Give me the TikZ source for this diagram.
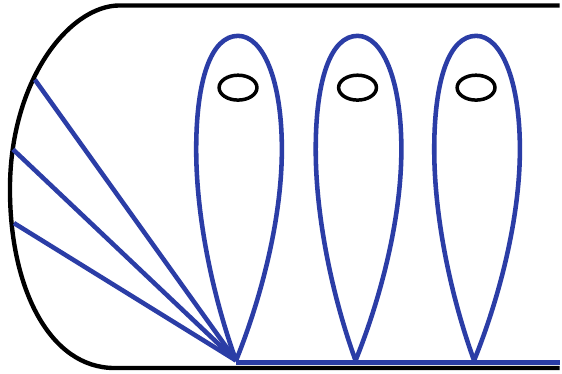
\documentclass[tikz,border=0pt]{standalone}
\usepackage{tikz}
\usepackage{xcolor}
\definecolor{vizBlue}{HTML}{2B3DA6}
\tikzset{
  vizLine/.style={draw=vizBlue, line width=2.6pt},
  vizRim/.style={draw=black, line width=2.5pt},
  vizEye/.style={draw=black, line width=2pt}
}

\begin{document}
\begin{tikzpicture}
  \filldraw[fill=white, draw=none] (0cm,0cm) rectangle (11.24cm,7.5cm);
  \coordinate (apexA) at (4.74cm,0.26cm);
  \coordinate (apexB) at (7.14cm,0.26cm);
  \coordinate (apexC) at (9.52cm,0.26cm);
  \coordinate (rimA) at (0.7cm,5.9cm);
  \coordinate (rimB) at (0.26cm,4.5cm);
  \coordinate (rimC) at (0.28cm,3.02cm);
  \coordinate (tipEnd) at (11.24cm,0.22cm);
  \draw[vizRim] (11.24cm,7.39cm) -- (2.4cm,7.39cm) .. controls (1.4cm,7.39cm) and (0.2cm,5.9cm) .. (0.2cm,3.7cm) .. controls (0.2cm,1.7cm) and (1.0cm,0.11cm) .. (2.3cm,0.11cm) -- (11.24cm,0.11cm);
  \draw[vizLine] (apexA) -- (rimA);
  \draw[vizLine] (apexA) -- (rimB);
  \draw[vizLine] (apexA) -- (rimC);
  \draw[vizLine] (apexA |- tipEnd) -- (tipEnd);
  \draw[vizLine] (apexA) .. controls ++(-0.45cm,1.24cm) and ++(0cm,-1.4cm) .. (3.94cm,4.5cm) .. controls (3.94cm,5.9cm) and (4.24cm,6.78cm) .. (4.78cm,6.78cm) .. controls (5.28cm,6.78cm) and (5.66cm,5.9cm) .. (5.66cm,4.5cm) .. controls (5.66cm,3.1cm) and (5.24cm,1.5cm) .. (apexA);
  \draw[vizLine] (apexB) .. controls ++(-0.45cm,1.24cm) and ++(0cm,-1.4cm) .. (6.34cm,4.5cm) .. controls (6.34cm,5.9cm) and (6.64cm,6.78cm) .. (7.18cm,6.78cm) .. controls (7.68cm,6.78cm) and (8.06cm,5.9cm) .. (8.06cm,4.5cm) .. controls (8.06cm,3.1cm) and (7.64cm,1.5cm) .. (apexB);
  \draw[vizLine] (apexC) .. controls ++(-0.45cm,1.24cm) and ++(0cm,-1.4cm) .. (8.72cm,4.5cm) .. controls (8.72cm,5.9cm) and (9.02cm,6.78cm) .. (9.56cm,6.78cm) .. controls (10.06cm,6.78cm) and (10.44cm,5.9cm) .. (10.44cm,4.5cm) .. controls (10.44cm,3.1cm) and (10.02cm,1.5cm) .. (apexC);
  \draw[vizEye] (4.78cm,5.74cm) ellipse (0.38cm and 0.25cm);
  \draw[vizEye] (7.18cm,5.74cm) ellipse (0.38cm and 0.25cm);
  \draw[vizEye] (9.56cm,5.74cm) ellipse (0.38cm and 0.25cm);
\end{tikzpicture}
\end{document}
